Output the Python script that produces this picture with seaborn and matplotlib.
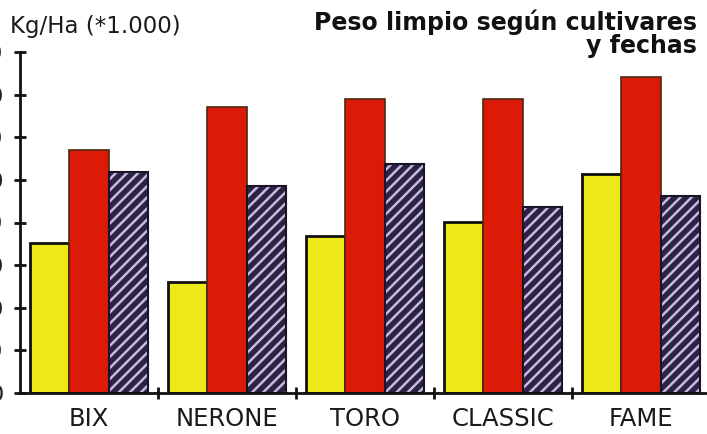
import pandas as pd
import numpy as np
import matplotlib.pyplot as plt
import seaborn as sns
from matplotlib.patches import Rectangle

cultivares = ['BIX', 'NERONE', 'TORO', 'CLASSIC', 'FAME']
fechas = ['Fecha 1', 'Fecha 2', 'Fecha 3']
fecha_1 = [35.2, 26.1, 36.9, 40.1, 51.4]
fecha_2 = [57.0, 67.1, 69.0, 69.0, 74.2]
fecha_3 = [51.9, 48.6, 53.8, 43.7, 46.2]
y_ticks = [0, 10, 20, 30, 40, 50, 60, 70, 80]

colores = ['#ece81a', '#dc1a08', '#2b2342']

df = pd.DataFrame({
    'cultivar': cultivares * 3,
    'fecha': [f for f in fechas for _ in cultivares],
    'peso': fecha_1 + fecha_2 + fecha_3,
})

sns.set_theme(style='white')
plt.rcParams['font.family'] = ['DejaVu Sans']
plt.rcParams['hatch.linewidth'] = 1.8

fig = plt.figure(figsize=(7.07, 4.34), dpi=100)
ax = fig.add_axes([20 / 707, 41 / 434, 690 / 707, 341 / 434])

sns.barplot(data=df, x='cultivar', y='peso', hue='fecha', palette=colores,
            width=0.85, legend=False, ax=ax, saturation=1, errorbar=None)

for i, cont in enumerate(ax.containers):
    for p in cont:
        if i == 0:
            p.set_edgecolor('#111111')
            p.set_linewidth(2)
        elif i == 1:
            p.set_edgecolor('#4a2a10')
            p.set_linewidth(1.2)
        else:
            p.set_edgecolor('#c9b9e2')
            p.set_linewidth(0)
            p.set_hatch('///')
            ax.add_patch(Rectangle(p.get_xy(), p.get_width(), p.get_height(),
                                   fill=False, edgecolor='#1a1428', linewidth=1.5))

ax.set_xlim(-0.5, 4.5)
ax.set_ylim(0, 80)
ax.set_yticks(y_ticks)
ax.set_xticks([0.5, 1.5, 2.5, 3.5])
ax.set_xticklabels([])
ax.set_xlabel('')
ax.set_ylabel('')
sns.despine(ax=ax)
for s in ['left', 'bottom']:
    ax.spines[s].set_linewidth(2)
    ax.spines[s].set_color('#111111')
ax.tick_params(axis='both', direction='inout', length=8, width=2,
               color='#111111', left=True, bottom=True)
ax.tick_params(axis='y', pad=8, labelsize=16, labelcolor='#222222')

for i, c in enumerate(cultivares):
    ax.text(i, -3.4, c, ha='center', va='top', fontsize=17.5,
            color='#1a1a1a')

fig.text(10 / 707, 1 - 27 / 434, 'Kg/Ha (*1.000)', ha='left', va='center',
         fontsize=16.5, color='#1a1a1a')
fig.text(697 / 707, 1 - 34 / 434, 'Peso limpio según cultivares\ny fechas',
         ha='right', va='center', fontsize=17, fontweight='heavy',
         linespacing=0.95, color='#111111')

fig.savefig('out.png', dpi=100)
